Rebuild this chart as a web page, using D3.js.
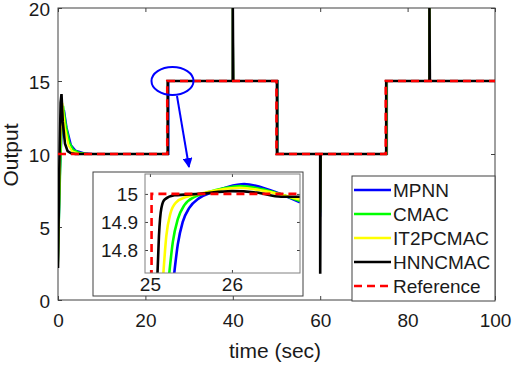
<!DOCTYPE html>
<html>
<head>
<meta charset="utf-8">
<script src="https://cdn.jsdelivr.net/npm/d3@7"></script>
<style>
  body { margin: 0; background: #fff; }
  svg { display: block; font-family: "Liberation Sans", Arial, sans-serif; }
  .tick text { fill: #1a1a1a; }
  .tick line { stroke: #404040; }
</style>
</head>
<body>
<div id="chart"></div>
<script>
"use strict";

// tick labels
var xTicks = [0, 20, 40, 60, 80, 100];
var yTicks = [0, 5, 10, 15, 20];
var insetXTicks = [25, 26, 27];
var insetYTicks = [14.8, 14.9, 15];

var seriesNames = ["MPNN", "CMAC", "IT2PCMAC", "HNNCMAC", "Reference"];

// main plot, [time, output]
var mpnnMain = [[0,2.5],[0.5,9],[1.0,12.5],[1.4,13.0],[2,11.8],[3,10.6],[4,10.25],[6,10.05],[8,10],[25.3,10],[25.3,15],
  [40,15],[40,20],[40.1,15],[50.3,15],[50.3,10],[60,10],[60,5.7],[60.1,10],[75.3,10],[75.3,15],[85,15],[85,20],[85.1,15],[100,15]];
var cmacMain = [[0,2.4],[0.5,8.5],[0.9,12.5],[1.2,13.3],[1.8,12],[2.6,10.8],[3.5,10.3],[5,10.08],[7,10],[25.2,10],[25.2,15],
  [40,15],[40,20],[40.1,15],[50.2,15],[50.2,10],[60,10],[60,6.0],[60.1,10],[75.2,10],[75.2,15],[85,15],[85,20],[85.1,15],[100,15]];
var it2Main = [[0,2.3],[0.4,9],[0.8,13],[1.0,13.5],[1.6,11.8],[2.4,10.6],[3.2,10.2],[4.5,10.05],[6,10],[25.15,10],[25.15,15],
  [40,15],[40,20],[40.1,15],[50.15,15],[50.15,10],[60,10],[60,6.2],[60.1,10],[75.15,10],[75.15,15],[85,15],[85,20],[85.1,15],[100,15]];
var hnnMain = [[0,2.2],[0.3,9],[0.6,13.5],[0.8,14.1],[1.1,12.2],[1.6,10.7],[2.2,10.2],[3,10.05],[4,10],[25.1,10],[25.1,15],
  [40,15],[40,20],[40.1,15],[50.1,15],[50.1,10],[60,10],[60,1.8],[60.1,10],[75.1,10],[75.1,15],[85,15],[85,20],[85.1,15],[100,15]];
var refMain = [[0,10],[25,10],[25,15],[50,15],[50,10],[75,10],[75,15],[100,15]];

// zoomed inset around t = 25
var mpnnInset = [[25.29,14.7],[25.34,14.82],[25.4,14.9],[25.48,14.95],[25.6,14.985],[25.75,15.005],[25.95,15.025],[26.15,15.035],[26.45,15.015],[26.83,14.97]];
var cmacInset = [[25.23,14.7],[25.28,14.83],[25.34,14.91],[25.42,14.96],[25.55,14.99],[25.7,15.005],[25.9,15.02],[26.1,15.028],[26.4,15.015],[26.83,14.975]];
var it2Inset = [[25.16,14.7],[25.2,14.85],[25.25,14.93],[25.32,14.97],[25.45,14.99],[25.6,15.0],[25.85,15.015],[26.1,15.022],[26.4,15.01],[26.83,14.98]];
var hnnInset = [[25.09,14.7],[25.11,14.85],[25.14,14.95],[25.18,14.98],[25.3,14.995],[25.6,15.0],[26,15.01],[26.3,15.005],[26.6,14.99],[26.83,14.99]];
var refInset = [[25.02,14.7],[25.02,15],[26.83,15]];

var colors = ["#0000ff", "#00ff00", "#ffff00", "#000000", "#ff0000"];

var W = 512, H = 365;
var svg = d3.select("#chart").append("svg").attr("width", W).attr("height", H);

// ---- main axes
var x = d3.scaleLinear().domain([0, 100]).range([58, 495]);
var y = d3.scaleLinear().domain([0, 20]).range([300, 8]);

svg.append("clipPath").attr("id", "mainClip")
  .append("rect").attr("x", 58).attr("y", 8).attr("width", 437).attr("height", 292);

svg.append("g").attr("transform", "translate(0,300)")
  .call(d3.axisBottom(x).tickValues(xTicks).tickSize(-4).tickPadding(14))
  .call(function(g) { g.select(".domain").remove(); })
  .selectAll("text").style("font-size", "19px");
svg.append("g").attr("transform", "translate(0,8)")
  .call(d3.axisTop(x).tickValues(xTicks).tickSize(-4).tickFormat(""))
  .call(function(g) { g.select(".domain").remove(); });
svg.append("g").attr("transform", "translate(58,0)")
  .call(d3.axisLeft(y).tickValues(yTicks).tickSize(-4).tickPadding(8))
  .call(function(g) { g.select(".domain").remove(); })
  .selectAll("text").style("font-size", "19px").attr("dy", "0.42em");
svg.append("g").attr("transform", "translate(495,0)")
  .call(d3.axisRight(y).tickValues(yTicks).tickSize(-4).tickFormat(""))
  .call(function(g) { g.select(".domain").remove(); });

svg.append("rect").attr("x", 58).attr("y", 8).attr("width", 437).attr("height", 292)
  .attr("fill", "none").attr("stroke", "#404040").attr("stroke-width", 1);

var mainLine = d3.line().x(function(d) { return x(d[0]); }).y(function(d) { return y(d[1]); });
var mainData = [mpnnMain, cmacMain, it2Main, hnnMain, refMain];
var mainWidths = [2, 2, 2, 2.6, 2.6];

var mainG = svg.append("g").attr("clip-path", "url(#mainClip)");
mainData.forEach(function(s, i) {
  mainG.append("path")
    .attr("d", mainLine(s))
    .attr("fill", "none")
    .attr("stroke", colors[i])
    .attr("stroke-width", mainWidths[i])
    .attr("stroke-dasharray", i === 4 ? "8,5" : null);
});

svg.append("text").attr("x", 275).attr("y", 358).attr("text-anchor", "middle")
  .style("font-size", "21px").attr("fill", "#1a1a1a").text("time (sec)");
svg.append("text").attr("transform", "translate(18,155) rotate(-90)").attr("text-anchor", "middle")
  .style("font-size", "21px").attr("fill", "#1a1a1a").text("Output");

// ---- blue ellipse and arrow
svg.append("defs").append("marker").attr("id", "arrowHead")
  .attr("viewBox", "0 0 10 10").attr("refX", 9).attr("refY", 5)
  .attr("markerWidth", 5).attr("markerHeight", 5).attr("orient", "auto")
  .append("path").attr("d", "M0,0 L10,5 L0,10 z").attr("fill", "#0000ff");

svg.append("ellipse").attr("cx", x(26.2)).attr("cy", y(15)).attr("rx", 21).attr("ry", 14)
  .attr("fill", "none").attr("stroke", "#0000ff").attr("stroke-width", 2);
svg.append("line").attr("x1", 177).attr("y1", 96).attr("x2", 189).attr("y2", 167)
  .attr("stroke", "#0000ff").attr("stroke-width", 2).attr("marker-end", "url(#arrowHead)");

// ---- inset
svg.append("rect").attr("x", 93).attr("y", 172).attr("width", 210).attr("height", 124)
  .attr("fill", "#fff").attr("stroke", "#404040").attr("stroke-width", 1);

var ix = d3.scaleLinear().domain([24.94, 26.83]).range([145, 300]);
var iy = d3.scaleLinear().domain([14.718, 15.071]).range([273, 174]);

svg.append("clipPath").attr("id", "insetClip")
  .append("rect").attr("x", 145).attr("y", 174).attr("width", 155).attr("height", 99);

var insetTicksX = insetXTicks.filter(function(v) { return v <= 26.83; });
svg.append("g").attr("transform", "translate(0,273)")
  .call(d3.axisBottom(ix).tickValues(insetTicksX).tickFormat(d3.format("d")).tickSize(-3).tickPadding(5))
  .call(function(g) { g.select(".domain").remove(); })
  .selectAll("text").style("font-size", "19px");
svg.append("g").attr("transform", "translate(0,174)")
  .call(d3.axisTop(ix).tickValues(insetTicksX).tickSize(-3).tickFormat(""))
  .call(function(g) { g.select(".domain").remove(); });
svg.append("g").attr("transform", "translate(145,0)")
  .call(d3.axisLeft(iy).tickValues(insetYTicks).tickFormat(function(d) { return String(+d.toFixed(1)); })
    .tickSize(-3).tickPadding(7))
  .call(function(g) { g.select(".domain").remove(); })
  .selectAll("text").style("font-size", "19px");
svg.append("g").attr("transform", "translate(300,0)")
  .call(d3.axisRight(iy).tickValues(insetYTicks).tickSize(-3).tickFormat(""))
  .call(function(g) { g.select(".domain").remove(); });

var insetLine = d3.line().x(function(d) { return ix(d[0]); }).y(function(d) { return iy(d[1]); })
  .curve(d3.curveMonotoneX);
var refLine = d3.line().x(function(d) { return ix(d[0]); }).y(function(d) { return iy(d[1]); });
var insetData = [mpnnInset, cmacInset, it2Inset, hnnInset, refInset];
var insetG = svg.append("g").attr("clip-path", "url(#insetClip)");
insetData.forEach(function(s, i) {
  insetG.append("path")
    .attr("d", i === 4 ? refLine(s) : insetLine(s))
    .attr("fill", "none")
    .attr("stroke", colors[i])
    .attr("stroke-width", 2.6)
    .attr("stroke-dasharray", i === 4 ? "8,5" : null);
});
svg.append("rect").attr("x", 145).attr("y", 174).attr("width", 155).attr("height", 99)
  .attr("fill", "none").attr("stroke", "#808080").attr("stroke-width", 1);

// ---- legend
var legend = svg.append("g");
legend.append("rect").attr("x", 352).attr("y", 176).attr("width", 143).attr("height", 125)
  .attr("fill", "#fff").attr("stroke", "#404040").attr("stroke-width", 1);
var legendY = d3.scalePoint().domain(seriesNames).range([190, 286]);
seriesNames.forEach(function(name, i) {
  var ly = legendY(name);
  legend.append("line").attr("x1", 354).attr("x2", 391).attr("y1", ly).attr("y2", ly)
    .attr("stroke", colors[i]).attr("stroke-width", 2.6)
    .attr("stroke-dasharray", i === 4 ? "8,5" : null);
  legend.append("text").attr("x", 393).attr("y", ly).attr("dy", "0.36em")
    .style("font-size", "19px").attr("fill", "#1a1a1a").text(name);
});
</script>
</body>
</html>
